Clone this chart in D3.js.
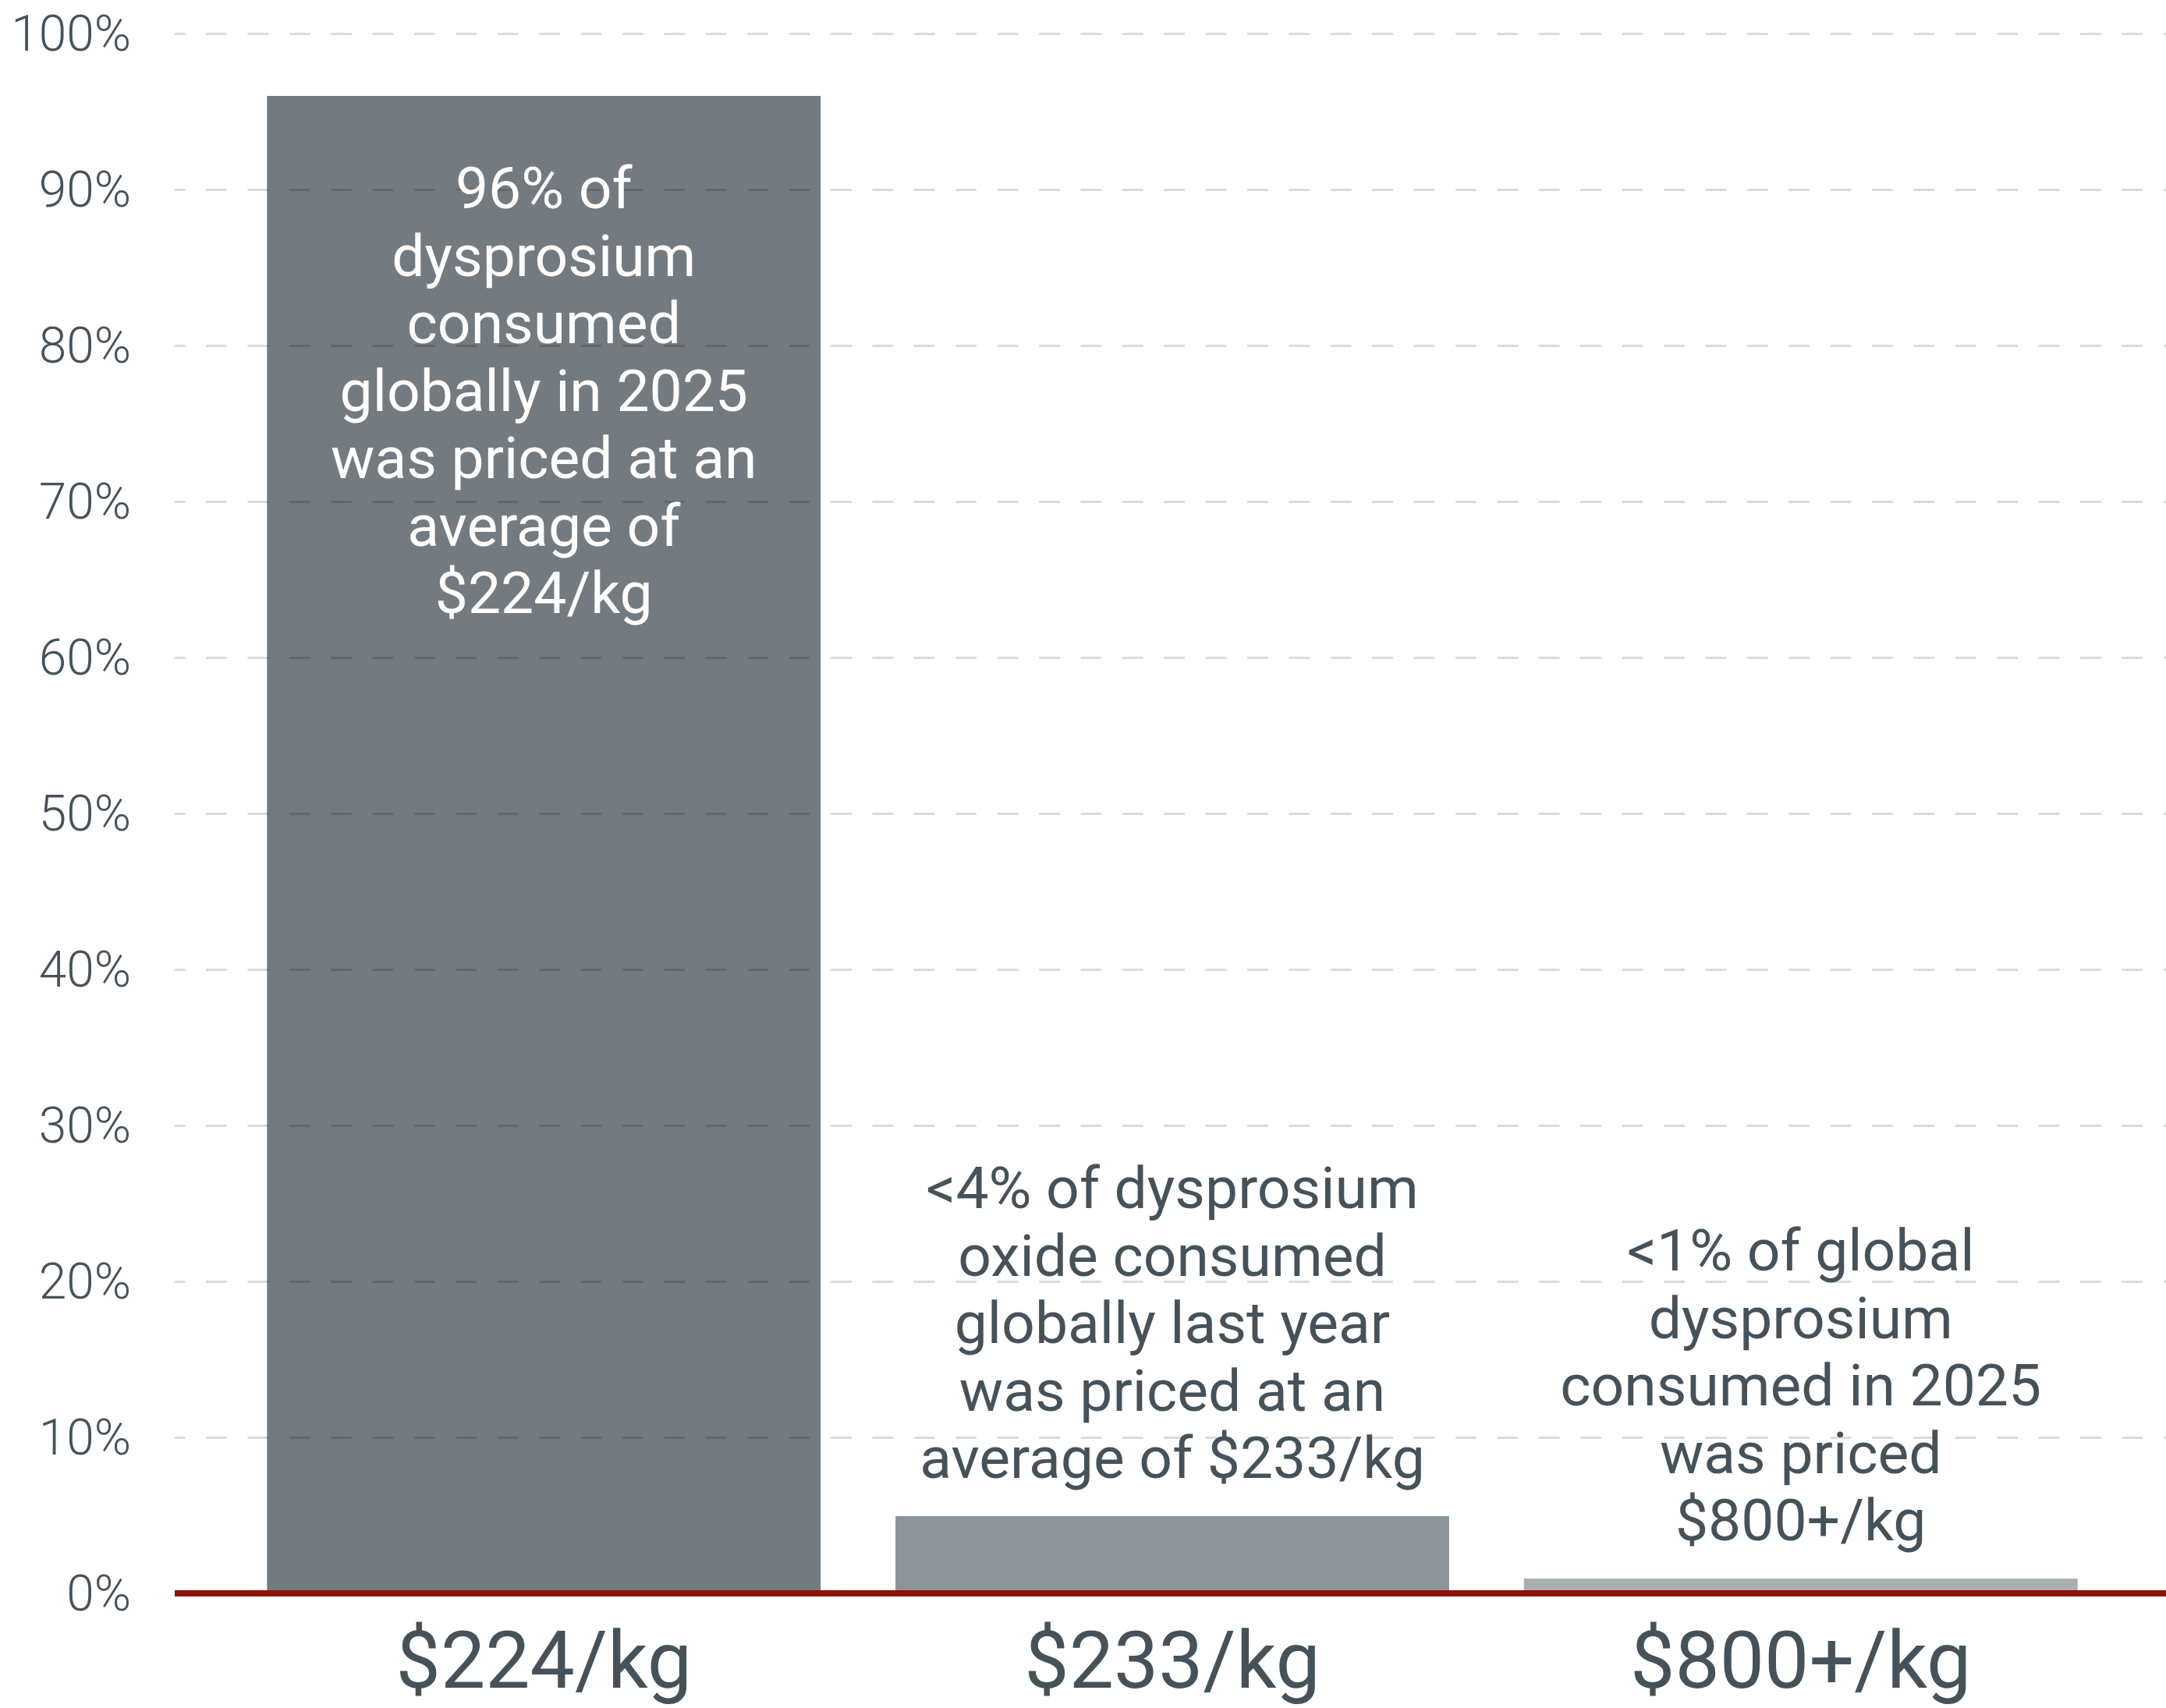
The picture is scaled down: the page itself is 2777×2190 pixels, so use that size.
<!DOCTYPE html>
<html lang="en">
<head>
<meta charset="utf-8">
<title>Dysprosium prices</title>
<script src="https://d3js.org/d3.v7.min.js"></script>
<style>
  body { margin: 0; background: #fff; }
  text { font-family: Roboto, "Liberation Sans", sans-serif; }
</style>
</head>
<body>
<div id="chart"></div>
<script>
// data
var categories = ["$224/kg", "$233/kg", "$800+/kg"];
var shares = [96, 4.95, 0.95];
var yTicks = [0, 10, 20, 30, 40, 50, 60, 70, 80, 90, 100];
var notes = [
  ["96% of", "dysprosium", "consumed", "globally in 2025", "was priced at an", "average of", "$224/kg"],
  ["<4% of dysprosium", "oxide consumed", "globally last year", "was priced at an", "average of $233/kg"],
  ["<1% of global", "dysprosium", "consumed in 2025", "was priced", "$800+/kg"]
];
var barColors = ["#737a80", "#8d9498", "#a9aeb0"];

var W = 2777, H = 2190;
var textColor = "#46525a";

var svg = d3.select("#chart").append("svg")
    .attr("width", W)
    .attr("height", H);

var y = d3.scaleLinear().domain([0, 100]).range([2043, 43]);
var x = d3.scaleBand().domain(categories).range([294, 2712])
    .paddingInner(0.119).paddingOuter(0.06);

// bars
svg.append("g").selectAll("rect")
  .data(shares)
  .enter().append("rect")
    .attr("x", function(d, i) { return x(categories[i]); })
    .attr("width", x.bandwidth())
    .attr("y", function(d) { return y(d); })
    .attr("height", function(d) { return y(0) - y(d); })
    .attr("fill", function(d, i) { return barColors[i]; });

// y axis + dashed gridlines (drawn over the bars)
var yAxis = svg.append("g")
    .attr("transform", "translate(224,0)")
    .call(d3.axisLeft(y).tickValues(yTicks).tickSize(-(W - 224)).tickPadding(56)
      .tickFormat(function(d) { return d + "%"; }));
yAxis.select(".domain").remove();
yAxis.selectAll(".tick line")
    .attr("stroke", "rgba(0,0,0,0.14)")
    .attr("stroke-width", 3)
    .attr("stroke-dasharray", "26.7,26.7")
    .attr("stroke-dashoffset", 13.3);
yAxis.selectAll(".tick text")
    .attr("fill", textColor)
    .attr("dy", null)
    .attr("y", 21)
    .style("font-family", "Roboto, 'Liberation Sans', sans-serif")
    .style("font-weight", 300)
    .style("font-size", "64px");

// x axis labels
var xAxis = svg.append("g")
    .attr("transform", "translate(0,2164)")
    .call(d3.axisBottom(x).tickSize(0).tickPadding(0));
xAxis.select(".domain").remove();
xAxis.selectAll(".tick text")
    .attr("dy", null)
    .attr("y", 0)
    .attr("fill", textColor)
    .style("font-size", "102px");

// annotations
var lineGap = 86.5;
notes.forEach(function(lines, i) {
  var cx = x(categories[i]) + x.bandwidth() / 2;
  var inside = i === 0;
  var first = inside ? y(shares[i]) + 144 : y(shares[i]) - 49 - (lines.length - 1) * lineGap;
  var t = svg.append("text")
      .attr("text-anchor", "middle")
      .attr("fill", inside ? "#ffffff" : textColor)
      .style("font-size", "75px");
  lines.forEach(function(s, j) {
    t.append("tspan")
      .attr("x", cx)
      .attr("y", first + j * lineGap)
      .text(s);
  });
});

// red zero line
svg.append("line")
    .attr("x1", 224).attr("x2", W)
    .attr("y1", y(0)).attr("y2", y(0))
    .attr("stroke", "#8c1203")
    .attr("stroke-width", 8);
</script>
</body>
</html>
